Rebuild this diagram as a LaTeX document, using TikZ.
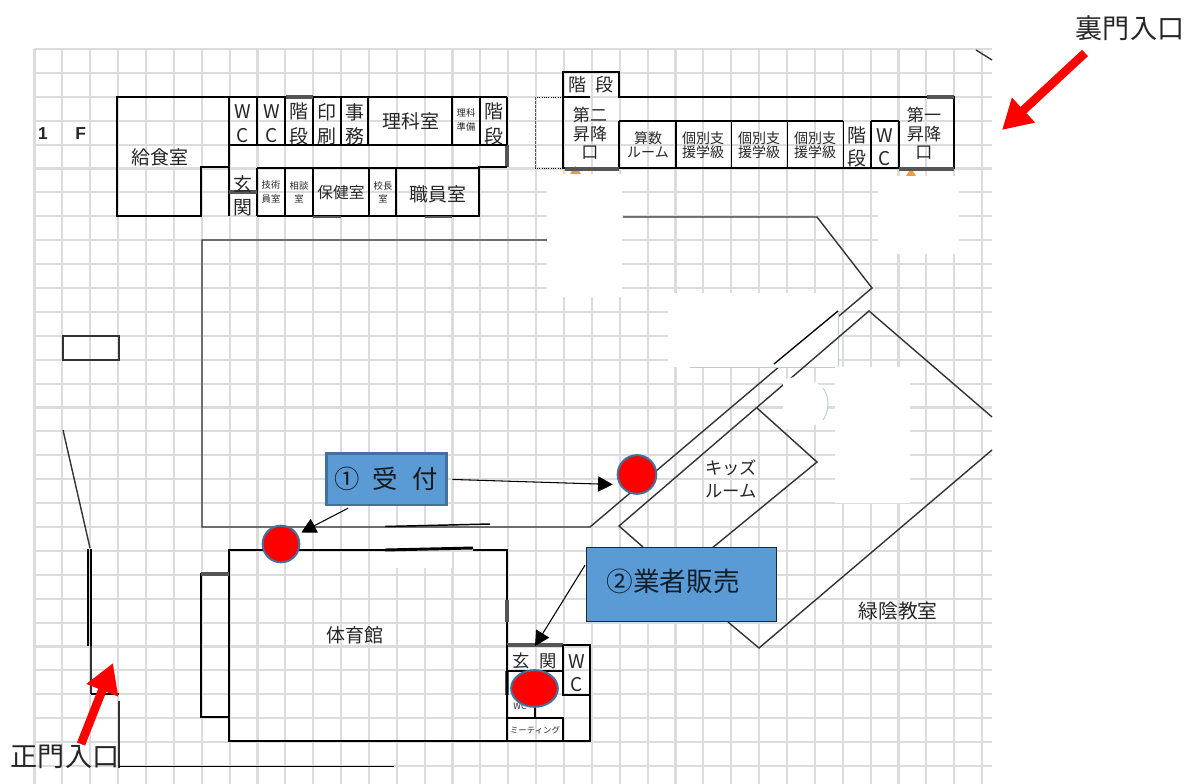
\documentclass[tikz,border=0pt]{standalone}
\usepackage{fontspec}
\setmainfont{Noto Sans CJK JP}
\newfontfamily\latinf{Liberation Sans}
\usetikzlibrary{arrows.meta,shapes.geometric}
\definecolor{gridc}{HTML}{DCDCDC}
\definecolor{boxblue}{HTML}{5B9BD5}
\definecolor{edgeblue}{HTML}{41719C}
\definecolor{wallgray}{HTML}{555555}
\definecolor{thinc}{HTML}{333333}
\definecolor{redc}{HTML}{FF0000}
\definecolor{orangec}{HTML}{ED9A45}
\definecolor{paleblue}{HTML}{B9CBDD}
\newcommand{\fsz}[1]{\fontsize{#1}{#1}\selectfont}
\tikzset{
  wall/.style={draw=black,line width=2.2pt,line join=miter},
  wallm/.style={draw=black,line width=1.4pt},
  wallt/.style={draw=black,line width=0.7pt},
  wallg/.style={draw=wallgray,line width=2.6pt},
  plan/.style={draw=thinc,line width=1.05pt},
  patch/.style={fill=white,draw=none},
  lab/.style={inner sep=0pt,outer sep=0pt,text=black!85,align=center},
  la/.style={lab,font=\fsz{14.2}},
  lb/.style={lab,font=\fsz{12.8}},
  lc/.style={lab,font=\fsz{10.5}},
  ld/.style={lab,font=\fsz{7}},
  reddot/.style={draw=edgeblue,line width=1.5pt,fill=redc,inner sep=0pt},
  signbox/.style={fill=boxblue,inner sep=0pt},
  conn/.style={draw=black,line width=0.8pt,-{Triangle[length=11pt,width=11.5pt]}},
  redarrow/.style={draw=redc,line width=6.5pt,-{Triangle[length=22pt,width=24pt]}},
}
\begin{document}
\begin{tikzpicture}[x=0.75pt,y=-0.75pt]
\useasboundingbox (0,0) rectangle (1187,784);
% grid
\foreach \k in {0,...,34} {\draw[gridc,line width=1.6pt] ({34.5+27.87*\k},49) -- ({34.5+27.87*\k},784);}
\foreach \k in {0,...,30} {\draw[gridc,line width=1.6pt] (34,{49+23.9*\k}) -- (992,{49+23.9*\k});}
% middle building
\draw[plan] (547,240) -- (202,240) -- (202,527) -- (590,527) -- (872,288) -- (817,217) -- (623,217);
\draw[plan] (976,50) -- (992,60);
% orange marks
\fill[orangec] (575.5,166) -- (570,174) -- (581,174) -- cycle;
\fill[orangec] (911,168) -- (906,176) -- (916,176) -- cycle;
% white patches
\fill[patch] (547,174) rectangle (622,297);
\fill[patch] (878,176) rectangle (959,254);
\fill[patch] (668,293) rectangle (838,367);
\draw[paleblue,line width=0.7pt] (690,367) -- (835,367);
\draw[paleblue,line width=0.7pt] (838,311) -- (838,367);
\draw[black,line width=1pt] (774,364) -- (838,311);
% green classroom and kids room
\draw[plan] (992,417) -- (869,311) -- (619,526) -- (643,547);
\draw[plan] (992,450) -- (759,648) -- (728,622);
\draw[plan] (757,408) -- (817,462) -- (700,558);
\fill[patch] (835,367) rectangle (910,503);
\fill[patch] (783,380) .. controls (795,374) and (826,376) .. (828,404) .. controls (826,430) and (795,432) .. (783,428) -- cycle;
\draw[paleblue,line width=0.7pt] (823,388) .. controls (830,397) and (829,412) .. (823,420);
% white strip between gym and middle building
\fill[patch] (385,528.2) rectangle (474,548.5);
\fill[patch] (395,552) rectangle (452,568);
\draw[black,line width=1.1pt] (385,526.5) -- (490,524);
% upper left building
\draw[wall] (229,216) -- (229,167) -- (201,167) -- (201,216) -- (117,216) -- (117,97) -- (507,97);
\draw[wall] (507,97) -- (507,145);
\draw[wallg] (507,145) -- (507,167);
\draw[wall] (507,167) -- (479,167) -- (479,216) -- (257,216);
\draw[wallm] (229,97) -- (229,167);
\draw[wallm] (229,145) -- (507,145);
\draw[wallm] (229,167.5) -- (229,216);
\draw[wallm] (257,168) -- (479,168);
\foreach \xa in {257,285,313,341,368,452,480} {\draw[wallm] (\xa,97) -- (\xa,145);}
\foreach \xa in {257,285,313,369,396,479} {\draw[wallm] (\xa,168) -- (\xa,216);}
\draw[wallg] (229,192) -- (257,192);
\draw[wallg] (286,97) -- (313,97);
\draw[draw=wallgray,line width=1.2pt] (313,217) -- (341,217);
\draw[draw=wallgray,line width=1.2pt] (425,217) -- (452,217);
% upper right building
\draw[wall] (563,168) -- (563,72) -- (619,72) -- (619,97) -- (954,97) -- (954,168) -- (899,168);
\draw[wall] (563,168) -- (899,168);
\draw[wallm] (563,97) -- (590,97);
\draw[wallm] (619,121) -- (843,121);
\draw[wallm] (871,121) -- (899,121);
\foreach \xa in {619,676,731.5,787.5,843.5,871,899} {\draw[wallm] (\xa,121) -- (\xa,168);}
\draw[wallg] (927,97) -- (954,97);
\draw[wallg] (565,169) -- (619,169);
\draw[wallg] (899,169) -- (954,169);
\draw[wallt,densely dotted] (563,97) -- (535,97);
\draw[wallt,densely dotted] (563,168) -- (535,168);
\draw[draw=wallgray,line width=0.5pt,dash pattern=on 2pt off 1pt] (535,97) -- (535,168);
% gym
\draw[wall] (385,550) -- (229,550) -- (229,741) -- (590,741) -- (590,645) -- (563,645);
\draw[wall] (385,550) -- (473,548);
\draw[wall] (473,550) -- (507,550) -- (507,645);
\draw[wall] (229,574) -- (201,574) -- (201,717) -- (229,717);
\draw[wallg] (201,574) -- (229,574);
\draw[wallg] (507,600) -- (507,622);
\draw[wallg] (507,645) -- (563,645);
\draw[wallg] (507,671) -- (507,695);
\draw[wallm] (507,645) -- (507,741);
\draw[wallm] (507,671) -- (563,671);
\draw[wallm] (563,645) -- (563,695) -- (590,695);
\draw[wallm] (535,671) -- (535,718);
\draw[wallm] (507,718) -- (563,718) -- (563,741);
% left lines
\draw[plan] (63,336) rectangle (119,360);
\draw[plan] (63,430) -- (90,548);
\draw[black,line width=0.8pt] (88,549) -- (88,646);
\draw[black,line width=0.8pt] (91,549) -- (91,646);
\draw[plan] (91,646) -- (91,694);
\draw[wall] (91,694) -- (119,694);
\draw[plan] (119,701) -- (119,768);
\draw[black,line width=0.9pt] (119,766.5) -- (394,766.5);
% labels
\node[lab,font=\latinf\bfseries\fsz{13}] (oneF) at (62,134) {1\hspace{1.6em}F};
\node[la] (kyu) at (160,157) {給食室};
\node[la] (wc1) at (243,123.5) {W\\[4pt]C};
\node[la] (wc2) at (272,123.5) {W\\[4pt]C};
\node[la] (st1) at (299,124) {階\\[4pt]段};
\node[la] (pr) at (327,124) {印\\[4pt]刷};
\node[la] (ji) at (355,124) {事\\[4pt]務};
\node[la] (ri) at (411,121) {理科室};
\node[ld] (rj) at (466,120) {理科\\[3pt]準備};
\node[la] (st2) at (494,124) {階\\[4pt]段};
\node[la] (ge1a) at (243,184) {玄};
\node[la] (ge1b) at (243,208) {関};
\node[ld] (gi) at (271,192) {技術\\[3pt]員室};
\node[ld] (so) at (299,192) {相談\\[3pt]室};
\node[lc,font=\fsz{11.8}] (ho) at (341,193) {保健室};
\node[ld] (ko) at (383,192) {校長\\[3pt]室};
\node[la] (sy) at (438,194) {職員室};
\node[lb,font=\fsz{13.5}] (st3) at (591,85) {階\hspace{0.45em}段};
\node[lb] (d2) at (590,133.5) {第二\\[1.2pt]昇降\\[1.2pt]口};
\node[lc] (sa) at (648,145) {算数\\ルーム};
\node[lc] (k1) at (703,145) {個別支\\援学級};
\node[lc] (k2) at (759,145) {個別支\\援学級};
\node[lc] (k3) at (815,145) {個別支\\援学級};
\node[la] (st4) at (857,147) {階\\[3pt]段};
\node[la] (wc3) at (885,147) {W\\[3pt]C};
\node[lb] (d1) at (924,133.5) {第一\\[1.2pt]昇降\\[1.2pt]口};
\node[lab,font=\fsz{20.3}] (ura) at (1130,28) {裏門入口};
\node[lab,font=\fsz{20.3}] (sei) at (65,757) {正門入口};
\node[lb,font=\fsz{13}] (kids) at (731,479) {キッズ\\[4.5pt]ルーム};
\node[lab,font=\fsz{14.8}] (ryo) at (898,611) {緑陰教室};
\node[lab,font=\fsz{14.2}] (tai) at (355,635) {体育館};
\node[lab,font=\fsz{13},minimum height=22.5pt] (gen2) at (535,661) {玄\hspace{0.55em}関};
\node[la] (wc4) at (577,673) {W\\[3pt]C};
\node[lab,font=\fsz{6.5}] (wc5) at (520,706) {WC};
\node[lab,font=\fsz{6.3}] (mt) at (535,730) {ミーティング};
% sign boxes
\node[signbox,draw=edgeblue,line width=2pt,minimum width=90pt,minimum height=38.5pt,font=\fsz{19},text=black!90] (recv) at (386.3,479.3) {①\hspace{0.5em}受\hspace{0.6em}付};
\node[signbox,draw=black!85,line width=0.8pt,minimum width=143pt,minimum height=56pt] (sale) at (681.5,584.5) {};
\node[lab,font=\fsz{20},text=black!80!boxblue] (salet) at (673,581) {②業者販売};
% red dots
\node[reddot,circle,minimum size=29pt] (c1) at (637,474.5) {};
\node[reddot,circle,minimum size=27.5pt] (c2) at (281,544) {};
\node[reddot,ellipse,minimum width=35pt,minimum height=27.5pt] (c3) at (534.5,688.5) {};
% connectors
\draw[conn,shorten <=3.5pt,shorten >=5pt] (recv.east) -- (c1.210);
\draw[conn,shorten <=3pt,shorten >=3pt] (recv.218) -- (c2.30);
\draw[conn,shorten <=1pt] (sale.168) -- (gen2.north);
% red arrows
\coordinate (uraTail) at (1085,53);
\coordinate (uraTip) at (1002,130);
\coordinate (seiTail) at (81,744);
\coordinate (seiTip) at (113,663);
\draw[redarrow] (uraTail) -- (uraTip);
\draw[redarrow] (seiTail) -- (seiTip);
\end{tikzpicture}
\end{document}
